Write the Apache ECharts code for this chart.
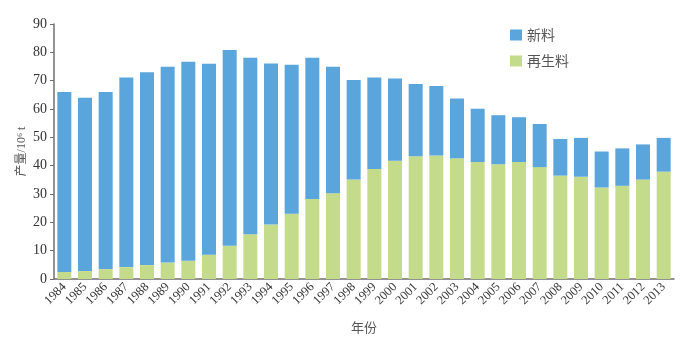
<!DOCTYPE html>
<html><head><meta charset="utf-8">
<script src="https://cdn.jsdelivr.net/npm/echarts@6/dist/echarts.min.js"></script>
<style>html,body{margin:0;padding:0;background:#fff}#c{width:687px;height:339px}</style>
</head><body><div id="c"></div>
<script>
const years = ['1984','1985','1986','1987','1988','1989','1990','1991','1992','1993','1994','1995','1996','1997','1998','1999','2000','2001','2002','2003','2004','2005','2006','2007','2008','2009','2010','2011','2012','2013'];
const totals = [66,64,66,71.1,73,74.9,76.7,76,80.8,78.1,76.1,75.6,78.1,74.9,70.2,71.1,70.8,68.8,68.1,63.7,60.1,57.8,57.1,54.7,49.4,49.8,45,46.1,47.5,49.8];
const recycled = [2.5,2.8,3.5,4.2,4.9,5.8,6.4,8.6,11.7,15.8,19.2,23,28.2,30.3,35.1,38.8,41.7,43.3,43.6,42.6,41.3,40.5,41.3,39.5,36.5,36.1,32.3,32.9,35.1,37.9];
const virgin = totals.map((t,i)=>+(t-recycled[i]).toFixed(1));
const yTicks = [0,10,20,30,40,50,60,70,80,90];

const chart = echarts.init(document.getElementById('c'));
chart.setOption({
  animation:false,
  grid:{left:54,right:13,top:24,bottom:56},
  legend:{
    orient:'vertical', left:505, top:23, itemWidth:12, itemHeight:11, itemGap:12,
    icon:'rect',
    textStyle:{fontFamily:'Noto Sans CJK SC', fontSize:14, color:'#555'},
    data:['新料','再生料']
  },
  xAxis:{
    type:'category', data:years,
    name:'年份', nameLocation:'middle', nameGap:42,
    nameTextStyle:{fontFamily:'Noto Sans CJK SC', fontSize:13, color:'#555'},
    axisLine:{lineStyle:{color:'#707070', width:1.5}},
    axisTick:{show:false},
    axisLabel:{rotate:45, interval:0, fontFamily:'Liberation Serif', fontSize:12.5, color:'#333', margin:6}
  },
  yAxis:{
    type:'value', min:yTicks[0], max:yTicks[yTicks.length-1], interval:10,
    name:'产量/10⁶ t', nameLocation:'middle', nameGap:26, nameRotate:90, nameMoveOverlap:false,
    nameTextStyle:{fontFamily:'Liberation Serif, Noto Sans CJK SC', fontSize:12, color:'#555'},
    axisLine:{show:true, lineStyle:{color:'#707070', width:1.5}},
    axisTick:{show:true, length:4, lineStyle:{color:'#707070'}},
    splitLine:{show:false},
    axisLabel:{fontFamily:'Liberation Serif', fontSize:14, color:'#333', margin:7}
  },
  series:[
    {name:'再生料', type:'bar', stack:'a', data:recycled, barWidth:14, itemStyle:{color:'#C4DB8B'}},
    {name:'新料', type:'bar', stack:'a', data:virgin, barWidth:14, itemStyle:{color:'#5AA5DC'}}
  ]
});
</script></body></html>
